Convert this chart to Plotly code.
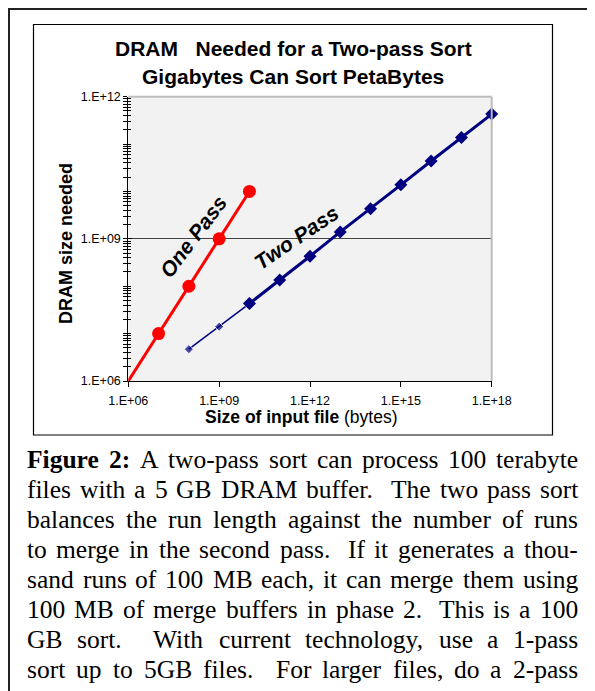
import plotly.graph_objects as go

# ---------------- data ----------------
file_size_one = [1e6, 1e7, 1e8, 1e9, 1e10]
dram_one = [1e6, 1e7, 1e8, 1e9, 1e10]

file_size_two = [1e8, 1e9, 1e10, 1e11, 1e12, 1e13, 1e14, 1e15, 1e16, 1e17, 1e18]
dram_two = [4.7e6, 1.4e7, 4.3e7, 1.35e8, 4.3e8, 1.4e9, 4.3e9, 1.38e10, 4.4e10, 1.38e11, 4.3e11]

x_tick_vals = [1e6, 1e9, 1e12, 1e15, 1e18]
x_tick_text = ["1.E+06", "1.E+09", "1.E+12", "1.E+15", "1.E+18"]
y_tick_vals = [1e6, 1e9, 1e12]
y_tick_text = ["1.E+06", "1.E+09", "1.E+12"]

title_line1 = "DRAM   Needed for a Two-pass Sort"
title_line2 = "Gigabytes Can Sort PetaBytes"
y_title = "DRAM size needed"
x_title_bold = "Size of input file"
x_title_rest = " (bytes)"
label_one = "One Pass"
label_two = "Two Pass"

caption_lines = [
    "Figure 2: A two-pass sort can process 100 terabyte",
    "files with a 5 GB DRAM buffer.  The two pass sort",
    "balances the run length against the number of runs",
    "to merge in the second pass.  If it generates a thou-",
    "sand runs of 100 MB each, it can merge them using",
    "100 MB of merge buffers in phase 2.  This is a 100",
    "GB sort.   With current technology, use a 1-pass",
    "sort up to 5GB files.  For larger files, do a 2-pass",
]
caption_bold_words = {(0, 0), (0, 1)}

# ---------------- helpers ----------------
# the page body keeps its default 8px margin, so the figure starts at (8, 8)
OFF = 8
W, H = 595 - OFF, 691 - OFF


def px(x):
    return (x - OFF) / W


def py(y):
    return 1 - (y - OFF) / H


TIMES = {c: w for c, w in zip("abcdefghijklmnopqrstuvwxyz",
                               [444, 500, 444, 500, 444, 333, 500, 500, 278, 278, 500, 278, 778,
                                500, 500, 500, 500, 333, 389, 278, 500, 500, 722, 500, 500, 444])}
TIMES.update({c: w for c, w in zip("ABCDEFGHIJKLMNOPQRSTUVWXYZ",
                                    [722, 667, 667, 722, 611, 556, 722, 722, 333, 389, 722, 611, 889,
                                     722, 722, 556, 722, 667, 556, 611, 722, 722, 944, 722, 722, 611])})
TIMES.update({d: 500 for d in "0123456789"})
TIMES.update({".": 250, ",": 250, ":": 278, "-": 333})
TIMES_BOLD = dict(TIMES)
TIMES_BOLD.update({"F": 611, "u": 556, "r": 444, ":": 333})


def word_width(w, bold, size):
    tbl = TIMES_BOLD if bold else TIMES
    return sum(tbl.get(c, 500) for c in w) / 1000 * size


# ---------------- figure ----------------
fig = go.Figure()

fig.add_trace(go.Scatter(
    x=file_size_one, y=dram_one, mode="lines+markers", cliponaxis=False,
    line=dict(color="#ff0000", width=3),
    marker=dict(symbol="circle", size=13, color="#ff0000"),
    name=label_one, hoverinfo="x+y"))

fig.add_trace(go.Scatter(
    x=file_size_two[:3], y=dram_two[:3], mode="lines+markers", cliponaxis=False,
    line=dict(color="#000080", width=1.5),
    marker=dict(symbol="diamond", size=[7, 7, 10], color="#000080"),
    name=label_two, hoverinfo="x+y"))

fig.add_trace(go.Scatter(
    x=file_size_two[2:], y=dram_two[2:], mode="lines+markers", cliponaxis=False,
    line=dict(color="#000080", width=3),
    marker=dict(symbol="diamond", size=10, color="#000080"),
    name=label_two, hoverinfo="x+y", showlegend=False))

# empty trace that carries the overlay axis used for the inward tick marks
fig.add_trace(go.Scatter(x=[], y=[], yaxis="y2", showlegend=False, hoverinfo="skip"))

minor_y = [k * 10 ** n for n in range(6, 12) for k in range(1, 10) if not (k == 1 and n % 3 == 0)]

axis_font = dict(family="Liberation Sans, Arial, sans-serif", size=12.5, color="black")
x_dom = [px(128.3), px(491.7)]
y_dom = [py(381), py(96.7)]

fig.update_layout(
    width=W, height=H,
    margin=dict(l=0, r=0, t=0, b=0, pad=0, autoexpand=False),
    paper_bgcolor="white",
    plot_bgcolor="#f2f2f2",
    showlegend=False,
    xaxis=dict(
        type="log", range=[6, 18], domain=x_dom, anchor="y", automargin=False,
        tickmode="array", tickvals=x_tick_vals, ticktext=x_tick_text,
        ticks="outside", ticklen=5, tickcolor="black", tickwidth=1,
        showline=True, linecolor="black", linewidth=1,
        showgrid=False, zeroline=False, tickfont=axis_font,
        ticklabelstandoff=3, layer="below traces",
    ),
    yaxis=dict(
        type="log", range=[6, 12], domain=y_dom, anchor="x", automargin=False,
        tickmode="array", tickvals=y_tick_vals, ticktext=y_tick_text,
        ticks="outside", ticklen=4, tickcolor="black", tickwidth=1,
        minor=dict(tickmode="array", tickvals=minor_y, ticks="outside", ticklen=4,
                   tickcolor="black", tickwidth=1, showgrid=False),
        showline=True, linecolor="black", linewidth=1,
        showgrid=True, gridcolor="#444444", gridwidth=1,
        zeroline=False, tickfont=axis_font, layer="below traces",
    ),
    yaxis2=dict(
        type="log", range=[6, 12], overlaying="y", anchor="x", side="left", automargin=False,
        tickmode="array", tickvals=y_tick_vals, showticklabels=False,
        ticks="inside", ticklen=4, tickcolor="black", tickwidth=1,
        minor=dict(tickmode="array", tickvals=minor_y, ticks="inside", ticklen=3,
                   tickcolor="black", tickwidth=1, showgrid=False),
        showgrid=False, zeroline=False, showline=False,
    ),
)

shapes = [
    # outer frame
    dict(type="rect", xref="paper", yref="paper", x0=px(9), y0=py(720), x1=px(620), y1=py(9),
         line=dict(color="#222222", width=2), fillcolor="rgba(0,0,0,0)"),
    # inner chart box
    dict(type="rect", xref="paper", yref="paper", x0=px(33.5), y0=py(435), x1=px(552.5), y1=py(24.5),
         line=dict(color="black", width=1.2), fillcolor="rgba(0,0,0,0)"),
    # plot area top / right borders
    dict(type="line", xref="x domain", yref="y domain", x0=0, x1=1, y0=1, y1=1,
         line=dict(color="#bdbdbd", width=2)),
    dict(type="line", xref="x domain", yref="y domain", x0=1, x1=1, y0=0, y1=1,
         line=dict(color="#bdbdbd", width=2)),
]
fig.update_layout(shapes=shapes)

annotations = []
title_font = dict(family="Liberation Sans, Arial, sans-serif", size=21, color="black")
annotations.append(dict(text="<b>%s</b>" % title_line1.replace(" ", "&nbsp;"), x=px(293), y=py(48.5),
                        xref="paper", yref="paper", xanchor="center", yanchor="middle",
                        showarrow=False, font=title_font))
annotations.append(dict(text="<b>%s</b>" % title_line2, x=px(293), y=py(76),
                        xref="paper", yref="paper", xanchor="center", yanchor="middle",
                        showarrow=False, font=title_font))
annotations.append(dict(text="<b>%s</b>" % y_title, x=px(66), y=py(243), textangle=-90,
                        xref="paper", yref="paper", xanchor="center", yanchor="middle",
                        showarrow=False,
                        font=dict(family="Liberation Sans, Arial, sans-serif", size=18, color="black")))
annotations.append(dict(text="<b>%s</b>%s" % (x_title_bold, x_title_rest), x=px(301), y=py(417),
                        xref="paper", yref="paper", xanchor="center", yanchor="middle",
                        showarrow=False,
                        font=dict(family="Liberation Sans, Arial, sans-serif", size=17.5, color="black")))
label_font = dict(family="Liberation Sans, Arial, sans-serif",
                  size=21, color="black", weight="bold", style="italic")
annotations.append(dict(text=label_one, x=px(193), y=py(236), textangle=-53,
                        xref="paper", yref="paper", xanchor="center", yanchor="middle",
                        showarrow=False, font=label_font))
annotations.append(dict(text=label_two, x=px(296), y=py(237), textangle=-34,
                        xref="paper", yref="paper", xanchor="center", yanchor="middle",
                        showarrow=False, font=label_font))

# justified caption, word by word
cap_size = 25.5
left, right = 27, 578
baseline0, line_gap = 468, 30
for i, line in enumerate(caption_lines):
    words = line.split()
    widths = [word_width(w, (i, j) in caption_bold_words, cap_size) for j, w in enumerate(words)]
    sp = 0.25 * cap_size
    nat_gaps, weights = [], []
    for j in range(len(words) - 1):
        sent = words[j].endswith(".")
        nat_gaps.append(sp * (1.3 if sent else 1.0))
        weights.append(3.0 if sent else 1.0)
    leftover = (right - left) - sum(widths) - sum(nat_gaps)
    per = leftover / sum(weights) if weights else 0
    xpos = left
    base = baseline0 + i * line_gap
    for j, w in enumerate(words):
        bold = (i, j) in caption_bold_words
        annotations.append(dict(
            text="<b>%s</b>" % w if bold else w,
            x=px(xpos - 2), y=py(base - 0.34 * cap_size),
            xref="paper", yref="paper", xanchor="left", yanchor="middle",
            showarrow=False,
            font=dict(family="Liberation Serif, Times New Roman, serif", size=cap_size, color="black")))
        if j < len(words) - 1:
            xpos += widths[j] + nat_gaps[j] + per * weights[j]

fig.update_layout(annotations=annotations)

fig.write_html("out.html")
